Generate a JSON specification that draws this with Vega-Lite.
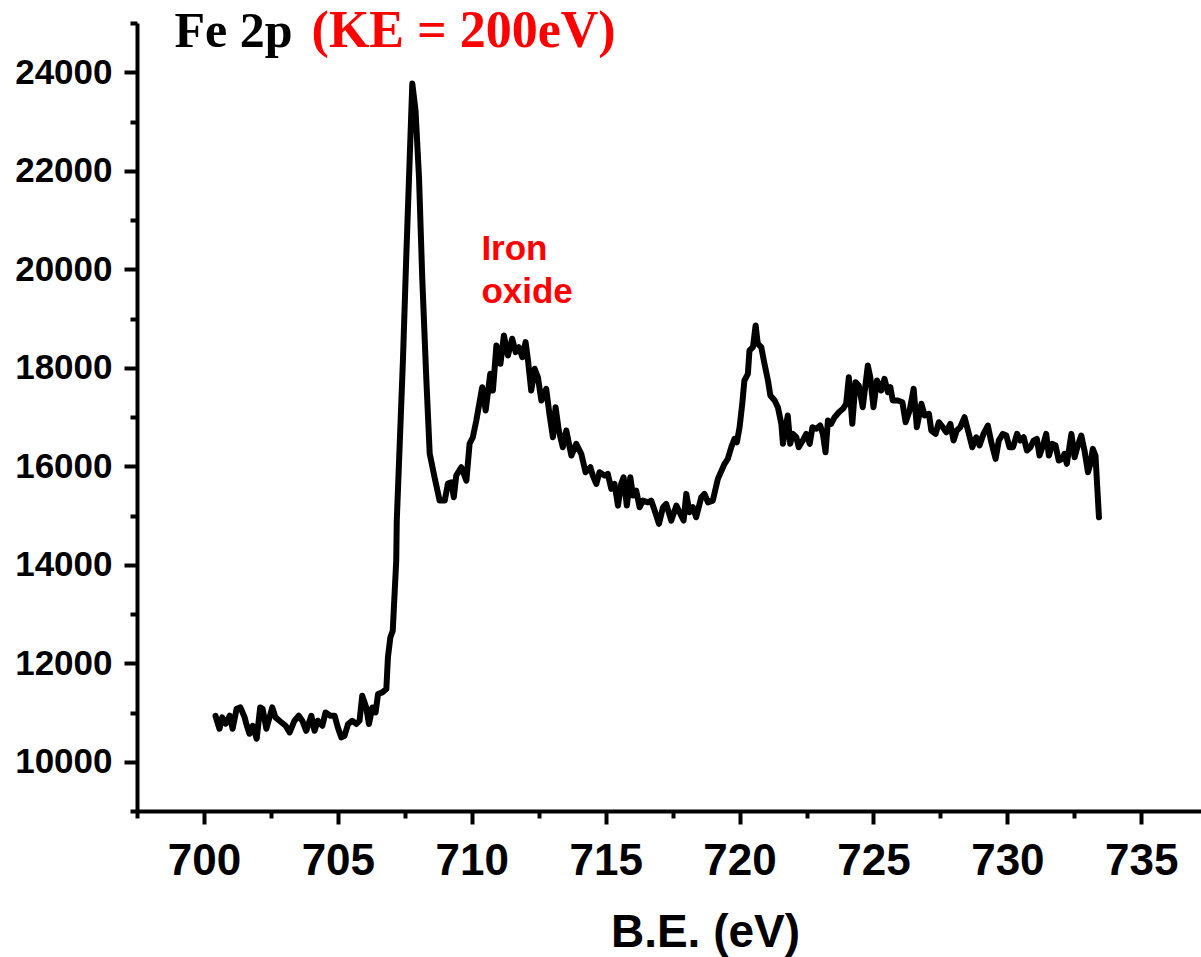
{
  "$schema": "https://vega.github.io/schema/vega-lite/v6.json",
  "autosize": {"type": "none"},
  "width": 1064,
  "height": 788,
  "padding": {"left": 137, "top": 23, "right": 0, "bottom": 146},
  "background": "white",
  "config": {"view": {"stroke": null}},
  "datasets": {
    "spectrum": [
      {"be": 700.43, "counts": 10934}, {"be": 700.58, "counts": 10670}, {"be": 700.68, "counts": 10900}, {"be": 700.81, "counts": 10772},
      {"be": 700.96, "counts": 10934}, {"be": 701.07, "counts": 10670}, {"be": 701.22, "counts": 11076}, {"be": 701.36, "counts": 11103},
      {"be": 701.52, "counts": 10900}, {"be": 701.58, "counts": 10772}, {"be": 701.70, "counts": 10568}, {"be": 701.82, "counts": 10731},
      {"be": 701.97, "counts": 10467}, {"be": 702.10, "counts": 11103}, {"be": 702.19, "counts": 11076}, {"be": 702.33, "counts": 10670},
      {"be": 702.55, "counts": 11103}, {"be": 702.67, "counts": 10900}, {"be": 702.82, "counts": 10833}, {"be": 703.05, "counts": 10731},
      {"be": 703.20, "counts": 10595}, {"be": 703.38, "counts": 10833}, {"be": 703.54, "counts": 10934}, {"be": 703.67, "counts": 10833},
      {"be": 703.82, "counts": 10629}, {"be": 704.01, "counts": 10934}, {"be": 704.13, "counts": 10629}, {"be": 704.25, "counts": 10833},
      {"be": 704.42, "counts": 10731}, {"be": 704.54, "counts": 11001}, {"be": 704.72, "counts": 10934}, {"be": 704.88, "counts": 10934},
      {"be": 705.00, "counts": 10696}, {"be": 705.13, "counts": 10493}, {"be": 705.25, "counts": 10528}, {"be": 705.38, "counts": 10766},
      {"be": 705.54, "counts": 10833}, {"be": 705.69, "counts": 10766}, {"be": 705.81, "counts": 10833}, {"be": 705.91, "counts": 11341},
      {"be": 706.06, "counts": 11103}, {"be": 706.16, "counts": 10766}, {"be": 706.29, "counts": 11103}, {"be": 706.41, "counts": 11001},
      {"be": 706.50, "counts": 11375}, {"be": 706.66, "counts": 11408}, {"be": 706.81, "counts": 11477}, {"be": 706.87, "counts": 12119},
      {"be": 706.96, "counts": 12525}, {"be": 707.05, "counts": 12661}, {"be": 707.18, "counts": 14084}, {"be": 707.20, "counts": 14897},
      {"be": 707.43, "counts": 18148}, {"be": 707.55, "counts": 20180}, {"be": 707.68, "counts": 22212}, {"be": 707.78, "counts": 23770},
      {"be": 707.90, "counts": 23228}, {"be": 708.03, "counts": 21872}, {"be": 708.15, "counts": 19840}, {"be": 708.30, "counts": 17808},
      {"be": 708.43, "counts": 16258}, {"be": 708.61, "counts": 15777}, {"be": 708.80, "counts": 15303}, {"be": 708.99, "counts": 15303},
      {"be": 709.11, "counts": 15648}, {"be": 709.24, "counts": 15675}, {"be": 709.33, "counts": 15370}, {"be": 709.42, "counts": 15811},
      {"be": 709.61, "counts": 15980}, {"be": 709.80, "counts": 15709}, {"be": 709.92, "counts": 16461}, {"be": 710.04, "counts": 16589},
      {"be": 710.17, "counts": 16929}, {"be": 710.39, "counts": 17605}, {"be": 710.52, "counts": 17132}, {"be": 710.69, "counts": 17878},
      {"be": 710.79, "counts": 17538}, {"be": 710.92, "counts": 18453}, {"be": 711.07, "counts": 18081}, {"be": 711.20, "counts": 18656},
      {"be": 711.35, "counts": 18249}, {"be": 711.51, "counts": 18589}, {"be": 711.64, "counts": 18316}, {"be": 711.76, "counts": 18418},
      {"be": 711.89, "counts": 18215}, {"be": 712.01, "counts": 18520}, {"be": 712.10, "counts": 18148}, {"be": 712.22, "counts": 17538},
      {"be": 712.35, "counts": 17979}, {"be": 712.47, "counts": 17808}, {"be": 712.60, "counts": 17335}, {"be": 712.78, "counts": 17573},
      {"be": 712.90, "counts": 17065}, {"be": 713.03, "counts": 16589}, {"be": 713.13, "counts": 17199}, {"be": 713.25, "counts": 16725},
      {"be": 713.40, "counts": 16386}, {"be": 713.53, "counts": 16725}, {"be": 713.72, "counts": 16217}, {"be": 713.90, "counts": 16455},
      {"be": 714.09, "counts": 16252}, {"be": 714.25, "counts": 15878}, {"be": 714.43, "counts": 15980}, {"be": 714.52, "counts": 15811},
      {"be": 714.65, "counts": 15642}, {"be": 714.77, "counts": 15878}, {"be": 714.96, "counts": 15811}, {"be": 715.08, "counts": 15846},
      {"be": 715.21, "counts": 15541}, {"be": 715.33, "counts": 15642}, {"be": 715.46, "counts": 15201}, {"be": 715.58, "counts": 15642},
      {"be": 715.67, "counts": 15777}, {"be": 715.79, "counts": 15201}, {"be": 715.92, "counts": 15777}, {"be": 716.02, "counts": 15405},
      {"be": 716.14, "counts": 15506}, {"be": 716.27, "counts": 15167}, {"be": 716.39, "counts": 15303}, {"be": 716.58, "counts": 15268},
      {"be": 716.70, "counts": 15303}, {"be": 716.83, "counts": 15100}, {"be": 716.99, "counts": 14830}, {"be": 717.14, "counts": 15167},
      {"be": 717.26, "counts": 15236}, {"be": 717.45, "counts": 14897}, {"be": 717.64, "counts": 15201}, {"be": 717.79, "counts": 15033},
      {"be": 717.91, "counts": 14897}, {"be": 718.01, "counts": 15439}, {"be": 718.13, "counts": 15065}, {"be": 718.26, "counts": 15167},
      {"be": 718.38, "counts": 14964}, {"be": 718.57, "counts": 15370}, {"be": 718.69, "counts": 15439}, {"be": 718.82, "counts": 15268},
      {"be": 719.00, "counts": 15303}, {"be": 719.19, "counts": 15744}, {"be": 719.44, "counts": 16049}, {"be": 719.56, "counts": 16150},
      {"be": 719.69, "counts": 16386}, {"be": 719.81, "counts": 16557}, {"be": 719.90, "counts": 16488}, {"be": 720.00, "counts": 16792},
      {"be": 720.10, "counts": 17268}, {"be": 720.18, "counts": 17741}, {"be": 720.31, "counts": 17878}, {"be": 720.37, "counts": 18351},
      {"be": 720.50, "counts": 18418}, {"be": 720.60, "counts": 18859}, {"be": 720.68, "counts": 18487}, {"be": 720.81, "counts": 18418},
      {"be": 720.93, "counts": 18081}, {"be": 721.06, "counts": 17741}, {"be": 721.15, "counts": 17437}, {"be": 721.31, "counts": 17335},
      {"be": 721.43, "counts": 17199}, {"be": 721.56, "counts": 16862}, {"be": 721.62, "counts": 16455}, {"be": 721.72, "counts": 16792},
      {"be": 721.80, "counts": 17030}, {"be": 721.89, "counts": 16455}, {"be": 721.99, "counts": 16658}, {"be": 722.12, "counts": 16589},
      {"be": 722.21, "counts": 16386}, {"be": 722.36, "counts": 16522}, {"be": 722.49, "counts": 16658}, {"be": 722.62, "counts": 16455},
      {"be": 722.72, "counts": 16792}, {"be": 722.87, "counts": 16760}, {"be": 723.01, "counts": 16827}, {"be": 723.11, "counts": 16658},
      {"be": 723.21, "counts": 16284}, {"be": 723.30, "counts": 16929}, {"be": 723.42, "counts": 16861}, {"be": 723.55, "counts": 16996},
      {"be": 723.71, "counts": 17097}, {"be": 723.86, "counts": 17166}, {"be": 723.98, "counts": 17268}, {"be": 724.08, "counts": 17808},
      {"be": 724.21, "counts": 16861}, {"be": 724.33, "counts": 17707}, {"be": 724.45, "counts": 17640}, {"be": 724.60, "counts": 17199},
      {"be": 724.79, "counts": 18046}, {"be": 724.88, "counts": 17808}, {"be": 725.00, "counts": 17199}, {"be": 725.13, "counts": 17741},
      {"be": 725.29, "counts": 17538}, {"be": 725.41, "counts": 17776}, {"be": 725.54, "counts": 17504}, {"be": 725.63, "counts": 17605},
      {"be": 725.72, "counts": 17335}, {"be": 725.91, "counts": 17335}, {"be": 726.08, "counts": 17300}, {"be": 726.20, "counts": 16894},
      {"be": 726.35, "counts": 17132}, {"be": 726.50, "counts": 17573}, {"be": 726.62, "counts": 16792}, {"be": 726.79, "counts": 17268},
      {"be": 726.91, "counts": 17030}, {"be": 727.07, "counts": 17065}, {"be": 727.16, "counts": 16725}, {"be": 727.32, "counts": 16658},
      {"be": 727.44, "counts": 16894}, {"be": 727.59, "counts": 16792}, {"be": 727.72, "counts": 16691}, {"be": 727.87, "counts": 16861},
      {"be": 727.99, "counts": 16522}, {"be": 728.11, "counts": 16725}, {"be": 728.24, "counts": 16792}, {"be": 728.40, "counts": 16996},
      {"be": 728.53, "counts": 16725}, {"be": 728.69, "counts": 16386}, {"be": 728.84, "counts": 16589}, {"be": 728.96, "counts": 16421},
      {"be": 729.11, "counts": 16658}, {"be": 729.27, "counts": 16827}, {"be": 729.40, "counts": 16488}, {"be": 729.56, "counts": 16150},
      {"be": 729.68, "counts": 16522}, {"be": 729.83, "counts": 16658}, {"be": 729.96, "counts": 16624}, {"be": 730.08, "counts": 16386},
      {"be": 730.21, "counts": 16386}, {"be": 730.36, "counts": 16658}, {"be": 730.48, "counts": 16522}, {"be": 730.61, "counts": 16589},
      {"be": 730.73, "counts": 16319}, {"be": 730.86, "counts": 16386}, {"be": 730.98, "counts": 16522}, {"be": 731.10, "counts": 16557},
      {"be": 731.20, "counts": 16217}, {"be": 731.33, "counts": 16421}, {"be": 731.45, "counts": 16658}, {"be": 731.55, "counts": 16217},
      {"be": 731.68, "counts": 16455}, {"be": 731.80, "counts": 16421}, {"be": 731.92, "counts": 16116}, {"be": 732.05, "counts": 16150},
      {"be": 732.13, "counts": 16252}, {"be": 732.22, "counts": 16049}, {"be": 732.39, "counts": 16658}, {"be": 732.51, "counts": 16183},
      {"be": 732.63, "counts": 16421}, {"be": 732.76, "counts": 16624}, {"be": 732.88, "counts": 16319}, {"be": 733.01, "counts": 15878},
      {"be": 733.10, "counts": 16049}, {"be": 733.19, "counts": 16353}, {"be": 733.29, "counts": 16217}, {"be": 733.42, "counts": 14964}
    ],
    "titleBlack": [{"be": 698.90, "counts": 24514, "label": "Fe 2p"}],
    "titleRed": [{"be": 704.02, "counts": 24514, "label": "(KE = 200eV)"}],
    "annot": [
      {"be": 710.36, "counts": 20180, "label": "Iron"},
      {"be": 710.36, "counts": 19306, "label": "oxide"}
    ]
  },
  "layer": [
    {
      "data": {"name": "spectrum"},
      "mark": {"type": "line", "color": "black", "strokeWidth": 6, "strokeJoin": "round", "strokeCap": "round"},
      "encoding": {
        "x": {
          "field": "be", "type": "quantitative",
          "scale": {"domain": [697.5, 737.23], "nice": false, "zero": false},
          "axis": {
            "orient": "bottom",
            "title": "B.E. (eV)",
            "values": [700, 705, 710, 715, 720, 725, 730, 735],
            "format": "d",
            "grid": false,
            "domainColor": "black", "domainWidth": 4,
            "tickColor": "black", "tickWidth": 4, "tickSize": 13,
            "labelFont": "Liberation Sans", "labelFontWeight": "bold", "labelFontSize": 44, "labelColor": "black",
            "labelPadding": 15, "labelFlush": false, "labelOverlap": false,
            "titleFont": "Liberation Sans", "titleFontWeight": "bold", "titleFontSize": 46, "titleColor": "black",
            "titleX": 568, "titleY": 135, "titleBaseline": "alphabetic", "titleAlign": "center"
          }
        },
        "y": {
          "field": "counts", "type": "quantitative",
          "scale": {"domain": [9000, 25000], "nice": false, "zero": false},
          "axis": {
            "orient": "left",
            "title": null,
            "values": [10000, 12000, 14000, 16000, 18000, 20000, 22000, 24000],
            "format": "d",
            "grid": false,
            "domainColor": "black", "domainWidth": 4,
            "tickColor": "black", "tickWidth": 4, "tickSize": 13,
            "labelFont": "Liberation Sans", "labelFontWeight": "bold", "labelFontSize": 35, "labelColor": "black",
            "labelPadding": 12, "labelFlush": false, "labelOverlap": false
          }
        }
      }
    },
    {
      "data": {"name": "spectrum"},
      "mark": {"type": "point", "opacity": 0},
      "encoding": {
        "x": {
          "field": "be", "type": "quantitative",
          "scale": {"domain": [697.5, 737.23], "nice": false, "zero": false},
          "axis": {
            "orient": "bottom", "title": null,
            "values": [697.5, 702.5, 707.5, 712.5, 717.5, 722.5, 727.5, 732.5],
            "labels": false, "grid": false, "domain": false,
            "tickColor": "black", "tickWidth": 4, "tickSize": 7
          }
        },
        "y": {
          "field": "counts", "type": "quantitative",
          "scale": {"domain": [9000, 25000], "nice": false, "zero": false},
          "axis": {
            "orient": "left", "title": null,
            "values": [9000, 11000, 13000, 15000, 17000, 19000, 21000, 23000, 25000],
            "labels": false, "grid": false, "domain": false,
            "tickColor": "black", "tickWidth": 4, "tickSize": 7
          }
        }
      }
    },
    {
      "data": {"name": "titleBlack"},
      "mark": {"type": "text", "align": "left", "baseline": "alphabetic", "font": "Liberation Serif", "fontWeight": "bold", "fontSize": 50, "color": "black"},
      "encoding": {
        "x": {"field": "be", "type": "quantitative", "axis": null},
        "y": {"field": "counts", "type": "quantitative", "axis": null},
        "text": {"field": "label"}
      }
    },
    {
      "data": {"name": "titleRed"},
      "mark": {"type": "text", "align": "left", "baseline": "alphabetic", "font": "Liberation Serif", "fontWeight": "bold", "fontSize": 52, "color": "#ff0000"},
      "encoding": {
        "x": {"field": "be", "type": "quantitative", "axis": null},
        "y": {"field": "counts", "type": "quantitative", "axis": null},
        "text": {"field": "label"}
      }
    },
    {
      "data": {"name": "annot"},
      "mark": {"type": "text", "align": "left", "baseline": "alphabetic", "font": "Liberation Sans", "fontWeight": "bold", "fontSize": 35, "color": "#ff0000"},
      "encoding": {
        "x": {"field": "be", "type": "quantitative", "axis": null},
        "y": {"field": "counts", "type": "quantitative", "axis": null},
        "text": {"field": "label"}
      }
    }
  ],
  "resolve": {"axis": {"x": "independent", "y": "independent"}}
}
